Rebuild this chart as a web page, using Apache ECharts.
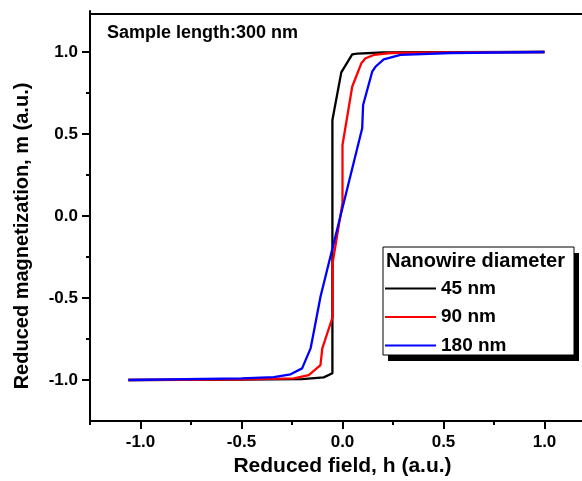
<!DOCTYPE html>
<html><head><meta charset="utf-8">
<script src="https://cdn.jsdelivr.net/npm/echarts@6/dist/echarts.min.js"></script>
<style>html,body{margin:0;padding:0;background:#fff}#chart{width:582px;height:481px}</style>
</head><body><div id="chart"></div>
<script>
const seriesNames = ['45 nm', '90 nm', '180 nm'];
const seriesColors = ['#000000', '#ff0000', '#0000ff'];

const h45 = [-1.06, -0.5, -0.2, -0.093, -0.05, -0.05, -0.006, 0.048, 0.073, 0.2, 0.5, 1.0];
const m45 = [-1.0, -0.998, -0.995, -0.984, -0.959, 0.585, 0.876, 0.986, 0.99, 0.997, 0.999, 1.0];

const h90 = [-1.06, -0.5, -0.241, -0.167, -0.109, -0.1, -0.059, -0.048, -0.048, 0.0, 0.0, 0.048, 0.093, 0.114, 0.155, 0.238, 0.5, 1.0];
const m90 = [-1.0, -0.996, -0.99, -0.97, -0.909, -0.807, -0.654, -0.614, -0.28, 0.079, 0.433, 0.788, 0.931, 0.962, 0.982, 0.994, 0.998, 1.0];

const h180 = [-1.06, -0.5, -0.34, -0.257, -0.2, -0.158, -0.145, -0.109, 0.0975, 0.102, 0.147, 0.163, 0.204, 0.287, 0.535, 1.0];
const m180 = [-1.0, -0.99, -0.982, -0.965, -0.929, -0.807, -0.726, -0.492, 0.535, 0.677, 0.88, 0.91, 0.955, 0.982, 0.994, 1.0];

const xMajorTicks = [-1, -0.5, 0, 0.5, 1];
const xMinorTicks = [-1.25, -0.75, -0.25, 0.25, 0.75, 1.25];
const yMajorTicks = [-1, -0.5, 0, 0.5, 1];
const yMinorTicks = [-0.75, -0.25, 0.25, 0.75];

const xTitle = 'Reduced field, h (a.u.)';
const yTitle = 'Reduced magnetization, m (a.u.)';
const annotation = 'Sample length:300 nm';
const legendTitle = 'Nanowire diameter';

const FONT = '"Liberation Sans", Arial, sans-serif';
const pairs = (h, m) => h.map((v, i) => [v, m[i]]);
const seriesData = [pairs(h45, m45), pairs(h90, m90), pairs(h180, m180)];

const chart = echarts.init(document.getElementById('chart'));
const labelStyle = { color: '#000', fontSize: 17, fontWeight: 'bold', fontFamily: FONT };
const titleStyle = { color: '#000', fontSize: 21, fontWeight: 'bold', fontFamily: FONT };

chart.setOption({
  animation: false,
  backgroundColor: '#fff',
  grid: { left: 90, top: 11, width: 505, height: 410, outerBoundsMode: 'none', containLabel: false, show: false },
  xAxis: [
    {
      type: 'value', position: 'bottom', min: -1.25, max: 1.25,
      axisLine: { onZero: false, lineStyle: { color: '#000', width: 2 } },
      axisTick: { customValues: xMajorTicks, length: 8, lineStyle: { color: '#000', width: 2 } },
      axisLabel: Object.assign({ customValues: xMajorTicks, margin: 13, formatter: v => v.toFixed(1) }, labelStyle),
      splitLine: { show: false },
      name: xTitle, nameLocation: 'middle', nameGap: 35, nameTextStyle: titleStyle
    },
    {
      type: 'value', position: 'bottom', min: -1.25, max: 1.25,
      axisLine: { show: false, onZero: false },
      axisTick: { customValues: xMinorTicks, length: 4, lineStyle: { color: '#000', width: 2 } },
      axisLabel: { show: false }, splitLine: { show: false }
    }
  ],
  yAxis: [
    {
      type: 'value', position: 'left', min: -1.25, max: 1.25,
      axisLine: { show: true, onZero: false, lineStyle: { color: '#000', width: 2 } },
      axisTick: { show: true, customValues: yMajorTicks, length: 8, lineStyle: { color: '#000', width: 2 } },
      axisLabel: Object.assign({ customValues: yMajorTicks, margin: 12, formatter: v => v.toFixed(1) }, labelStyle),
      splitLine: { show: false },
      name: yTitle, nameLocation: 'middle', nameGap: 58,
      nameTextStyle: Object.assign({ padding: [0, 40, 0, 0] }, titleStyle, { fontSize: 20 })
    },
    {
      type: 'value', position: 'left', min: -1.25, max: 1.25,
      axisLine: { show: false, onZero: false },
      axisTick: { show: true, customValues: yMinorTicks, length: 4, lineStyle: { color: '#000', width: 2 } },
      axisLabel: { show: false }, splitLine: { show: false }
    }
  ],
  legend: {
    data: seriesNames, left: 385, top: 279, orient: 'vertical', icon: 'rect',
    itemWidth: 51, itemHeight: 2, itemGap: 9.5, padding: 0, z: 20,
    itemStyle: { borderWidth: 0 },
    textStyle: { color: '#000', fontSize: 19, fontWeight: 'bold', fontFamily: FONT, lineHeight: 18 }
  },
  graphic: [
    { type: 'line', z: 50, shape: { x1: 89, y1: 14, x2: 582, y2: 14 }, style: { stroke: '#000', lineWidth: 2 } },
    { type: 'rect', z: 10, shape: { x: 388, y: 253, width: 191, height: 108 }, style: { fill: '#000' } },
    { type: 'rect', z: 11, shape: { x: 383, y: 247, width: 191, height: 108 }, style: { fill: '#fff', stroke: '#000', lineWidth: 1 } },
    { type: 'text', z: 12, x: 386, y: 261, style: { text: legendTitle, fill: '#000', font: 'bold 20px ' + FONT, verticalAlign: 'middle' } },
    { type: 'text', z: 12, x: 107, y: 33, style: { text: annotation, fill: '#000', font: 'bold 18px ' + FONT, verticalAlign: 'middle' } }
  ],
  series: seriesNames.map((name, i) => ({
    name, type: 'line', data: seriesData[i], xAxisIndex: 0, yAxisIndex: 0,
    showSymbol: false, symbol: 'none', color: seriesColors[i],
    lineStyle: { color: seriesColors[i], width: 2.3 }, z: 2 + i
  }))
});
</script></body></html>
